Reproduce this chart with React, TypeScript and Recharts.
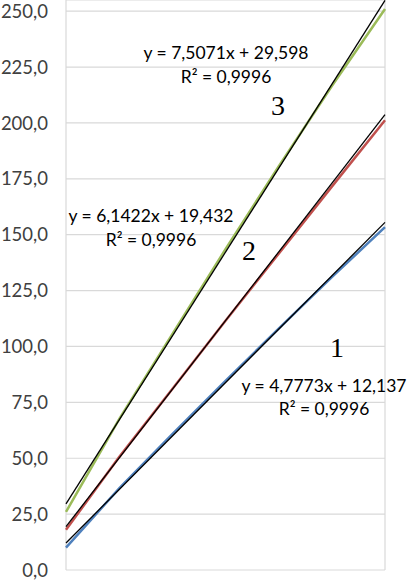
import { LineChart, Line, XAxis, YAxis, CartesianGrid } from 'recharts';

// x positions of the measured points
const xs = [0, 5, 10, 15, 20, 25, 30];

// measured series (1 = blue, 2 = red, 3 = green)
const s1 = [10.0, 36.5, 60.8, 84.6, 108.0, 131.0, 153.4];
const s2 = [18.0, 50.5, 81.0, 111.5, 141.5, 171.5, 201.2];
const s3 = [26.0, 67.5, 105.5, 143.5, 180.5, 216.5, 251.0];

// linear trendline end points
const trendX = [0, 30];
const trend1 = [12.1, 155.5];
const trend2 = [19.4, 203.7];
const trend3 = [29.6, 254.8];

const yTicks = [0, 25, 50, 75, 100, 125, 150, 175, 200, 225, 250];
const xTicks = [0, 10, 20, 30];

const toPoints = (x: number[], y: number[]) => x.map((v, i) => ({ x: v, y: y[i] }));

const fmt = (v: number) => v.toFixed(1).replace('.', ',');

const FONT = 'Lato, "Open Sans", sans-serif';

export default function App() {
  return (
    <div style={{ position: 'absolute', left: 0, top: 0, width: 410, height: 580, background: '#fff' }}>
      <LineChart width={410} height={580} margin={{ top: 0, right: 25, bottom: 10, left: 0 }}>
        <CartesianGrid stroke="#d9d9d9" strokeWidth={1.2} />
        <XAxis
          type="number"
          dataKey="x"
          domain={[0, 30]}
          ticks={xTicks}
          tick={false}
          tickLine={false}
          axisLine={{ stroke: '#d0d0d0' }}
          height={0}
        />
        <YAxis
          type="number"
          dataKey="y"
          domain={[0, 255]}
          ticks={yTicks}
          interval={0}
          allowDataOverflow
          width={66}
          axisLine={false}
          tickLine={false}
          tickSize={0}
          tickMargin={18}
          tickFormatter={fmt}
          tick={{ fontSize: 18.5, fill: '#404040', fontFamily: FONT }}
        />
        <Line data={toPoints(xs, s1)} dataKey="y" stroke="#4f81bd" strokeWidth={2.5} dot={false} isAnimationActive={false} />
        <Line data={toPoints(xs, s2)} dataKey="y" stroke="#c0504d" strokeWidth={2.5} dot={false} isAnimationActive={false} />
        <Line data={toPoints(xs, s3)} dataKey="y" stroke="#9bbb59" strokeWidth={2.5} dot={false} isAnimationActive={false} />
        <Line data={toPoints(trendX, trend1)} dataKey="y" stroke="#000" strokeWidth={1.3} dot={false} isAnimationActive={false} />
        <Line data={toPoints(trendX, trend2)} dataKey="y" stroke="#000" strokeWidth={1.3} dot={false} isAnimationActive={false} />
        <Line data={toPoints(trendX, trend3)} dataKey="y" stroke="#000" strokeWidth={1.3} dot={false} isAnimationActive={false} />
      </LineChart>
      <svg width={410} height={580} style={{ position: 'absolute', left: 0, top: 0, pointerEvents: 'none' }}>
        <g fontFamily={FONT} fontSize={17.5} fill="#000" textAnchor="middle">
          <text x={226} y={59}>y = 7,5071x + 29,598</text>
          <text x={226} y={83}>R² = 0,9996</text>
          <text x={151} y={222}>y = 6,1422x + 19,432</text>
          <text x={151} y={246}>R² = 0,9996</text>
          <text x={324} y={392}>y = 4,7773x + 12,137</text>
          <text x={324} y={415}>R² = 0,9996</text>
        </g>
        <g fontFamily='"Liberation Serif", serif' fontSize={28} fill="#000" textAnchor="middle">
          <text x={278} y={115}>3</text>
          <text x={249} y={260}>2</text>
          <text x={337} y={357}>1</text>
        </g>
      </svg>
    </div>
  );
}
